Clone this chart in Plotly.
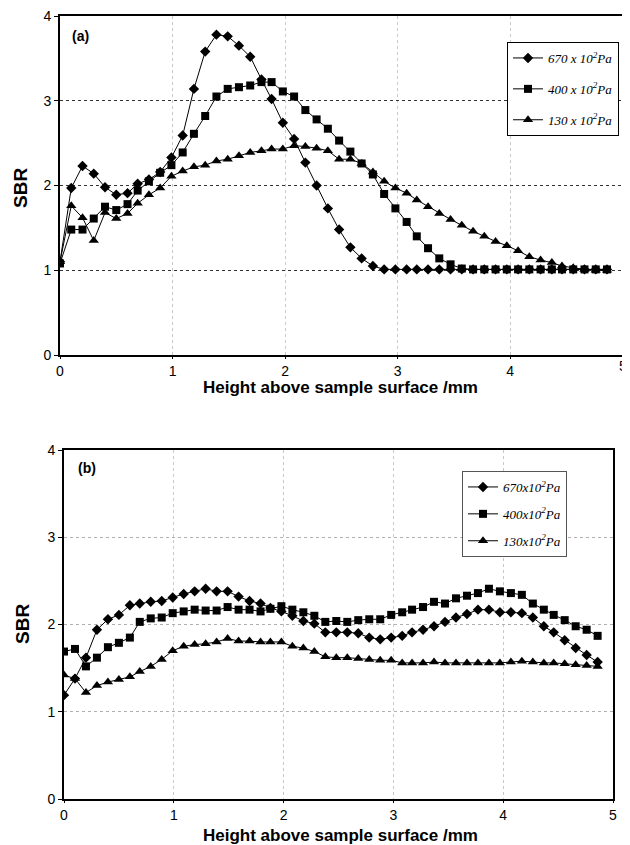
import plotly.graph_objects as go

# Height above sample surface (mm), sampling positions
height_mm = [0.00, 0.10, 0.20, 0.30, 0.40, 0.50, 0.60, 0.69, 0.79, 0.89,
             0.99, 1.09, 1.19, 1.29, 1.39, 1.49, 1.59, 1.69, 1.79, 1.88,
             1.98, 2.08, 2.18, 2.28, 2.38, 2.48, 2.58, 2.68, 2.78, 2.88,
             2.98, 3.08, 3.17, 3.27, 3.37, 3.47, 3.57, 3.67, 3.77, 3.87,
             3.97, 4.07, 4.17, 4.27, 4.37, 4.46, 4.56, 4.66, 4.76, 4.86]

# (a)
a_670 = [1.10, 1.97, 2.23, 2.14, 1.98, 1.89, 1.91, 2.02, 2.07, 2.16,
         2.33, 2.59, 3.14, 3.58, 3.78, 3.76, 3.65, 3.52, 3.25, 3.02,
         2.74, 2.55, 2.27, 2.00, 1.73, 1.48, 1.27, 1.14, 1.05, 1.01,
         1.01, 1.01, 1.01, 1.01, 1.01, 1.01, 1.01, 1.01, 1.01, 1.01,
         1.01, 1.01, 1.01, 1.01, 1.01, 1.01, 1.01, 1.01, 1.01, 1.01]
a_400 = [1.08, 1.48, 1.48, 1.61, 1.75, 1.71, 1.78, 1.94, 2.05, 2.15,
         2.24, 2.39, 2.61, 2.82, 3.05, 3.14, 3.16, 3.18, 3.22, 3.22,
         3.11, 3.05, 2.89, 2.78, 2.67, 2.53, 2.40, 2.26, 2.13, 1.90,
         1.73, 1.57, 1.40, 1.26, 1.14, 1.07, 1.02, 1.01, 1.01, 1.01,
         1.01, 1.01, 1.01, 1.01, 1.01, 1.01, 1.01, 1.01, 1.01, 1.01]
a_130 = [1.10, 1.76, 1.62, 1.35, 1.68, 1.61, 1.67, 1.79, 1.89, 1.97,
         2.11, 2.17, 2.22, 2.24, 2.29, 2.31, 2.35, 2.39, 2.41, 2.43,
         2.43, 2.47, 2.46, 2.44, 2.41, 2.31, 2.31, 2.26, 2.16, 2.05,
         1.97, 1.91, 1.83, 1.75, 1.67, 1.60, 1.53, 1.46, 1.40, 1.34,
         1.29, 1.23, 1.16, 1.12, 1.09, 1.05, 1.03, 1.01, 1.00, 1.00]

# (b)
b_670 = [1.19, 1.38, 1.62, 1.94, 2.06, 2.11, 2.22, 2.24, 2.26, 2.27,
         2.31, 2.35, 2.38, 2.41, 2.38, 2.38, 2.32, 2.27, 2.24, 2.19,
         2.15, 2.10, 2.04, 2.01, 1.91, 1.91, 1.91, 1.90, 1.85, 1.83,
         1.85, 1.87, 1.91, 1.94, 1.98, 2.03, 2.08, 2.12, 2.17, 2.17,
         2.14, 2.14, 2.13, 2.08, 1.98, 1.91, 1.82, 1.73, 1.65, 1.57]
b_400 = [1.69, 1.72, 1.52, 1.62, 1.74, 1.79, 1.85, 2.03, 2.07, 2.08,
         2.13, 2.15, 2.17, 2.16, 2.16, 2.20, 2.17, 2.17, 2.15, 2.18,
         2.21, 2.17, 2.14, 2.10, 2.03, 2.04, 2.03, 2.05, 2.06, 2.06,
         2.11, 2.14, 2.17, 2.20, 2.26, 2.24, 2.30, 2.33, 2.36, 2.41,
         2.38, 2.36, 2.34, 2.24, 2.17, 2.11, 2.05, 1.98, 1.94, 1.87]
b_130 = [1.42, 1.38, 1.22, 1.30, 1.34, 1.37, 1.40, 1.46, 1.52, 1.60,
         1.70, 1.75, 1.77, 1.78, 1.80, 1.84, 1.81, 1.81, 1.80, 1.80,
         1.80, 1.75, 1.73, 1.69, 1.63, 1.62, 1.62, 1.61, 1.60, 1.59,
         1.59, 1.56, 1.56, 1.56, 1.57, 1.56, 1.56, 1.56, 1.56, 1.56,
         1.56, 1.57, 1.58, 1.57, 1.56, 1.56, 1.55, 1.54, 1.53, 1.52]

x_ticks = [0, 1, 2, 3, 4, 5]

names_a = ["670 x 10<sup>2</sup>Pa", "400 x 10<sup>2</sup>Pa", "130 x 10<sup>2</sup>Pa"]
names_b = ["670x10<sup>2</sup>Pa", "400x10<sup>2</sup>Pa", "130x10<sup>2</sup>Pa"]
symbols = ["diamond", "square", "triangle-up"]
sizes = [8, 8, 9]

fig = go.Figure()
for ys, nm, sym, sz, i in zip([a_670, a_400, a_130], names_a, symbols, sizes, range(3)):
    fig.add_trace(go.Scatter(x=height_mm, y=ys, name=nm, mode="lines+markers",
                             line=dict(color="black", width=1),
                             marker=dict(symbol=sym, size=sz, color="black"),
                             xaxis="x", yaxis="y", legend="legend",
                             legendgroup="a%d" % i))
for ys, nm, sym, sz, i in zip([b_670, b_400, b_130], names_b, symbols, sizes, range(3)):
    fig.add_trace(go.Scatter(x=height_mm, y=ys, name=nm, mode="lines+markers",
                             line=dict(color="black", width=1),
                             marker=dict(symbol=sym, size=sz, color="black"),
                             xaxis="x2", yaxis="y2", legend="legend2",
                             legendgroup="b%d" % i))

# page body has an 8px margin, so the figure starts at (8, 8) in the window
OFF = 8
W, H = 630 - OFF, 845 - OFF
def px_x(p): return (p - OFF) / W
def px_y(p): return 1 - (p - OFF) / H

tick_font = dict(family="Liberation Sans, Arial", size=14, color="black")
axis_common = dict(showline=True, linecolor="black", linewidth=2,
                   mirror=True, ticks="outside", ticklen=2, tickcolor="black",
                   tickfont=tick_font, zeroline=False, showgrid=True, griddash="dot",
                   automargin=False, ticklabeloverflow="allow")
yaxis_common = dict(range=[0, 4], dtick=1, showline=True, linecolor="black", linewidth=2,
                    mirror=True, ticks="outside", ticklen=4, tickcolor="black",
                    tickfont=tick_font, zeroline=False, showgrid=True, griddash="dot",
                    automargin=False, ticklabeloverflow="allow")

leg_font = dict(family="Liberation Serif, Times New Roman", size=13, color="black", style="italic")

fig.update_layout(
    width=W, height=H, plot_bgcolor="white", paper_bgcolor="white",
    margin=dict(l=0, r=0, t=0, b=0, autoexpand=False),
    # top panel: the last label (5) sits at the panel edge, so it is written
    # as an annotation placed on the x-axis scale below
    xaxis=dict(axis_common, range=[0, 5.02], tickmode="array", tickvals=x_ticks[:-1],
               domain=[px_x(60), px_x(625)], anchor="y", gridcolor="#c8c8c8"),
    yaxis=dict(yaxis_common, domain=[px_y(355), px_y(16)], anchor="x", gridcolor="#333333"),
    xaxis2=dict(axis_common, range=[0, 5], tickmode="array", tickvals=x_ticks,
                domain=[px_x(64), px_x(613)], anchor="y2", gridcolor="#c8c8c8"),
    yaxis2=dict(yaxis_common, domain=[px_y(799), px_y(450)], anchor="x2", gridcolor="#b0b0b0"),
    legend=dict(x=px_x(507), y=px_y(42), xanchor="left", yanchor="top",
                bgcolor="white", bordercolor="black", borderwidth=1,
                font=leg_font, tracegroupgap=11, traceorder="grouped",
                itemwidth=30),
    legend2=dict(x=px_x(462), y=px_y(471), xanchor="left", yanchor="top",
                 bgcolor="white", bordercolor="#555555", borderwidth=1,
                 font=leg_font, tracegroupgap=7, traceorder="grouped",
                 itemwidth=30),
    showlegend=True,
)

fig.add_annotation(x=x_ticks[-1], xref="x", y=px_y(366), yref="paper", xanchor="center",
                   yanchor="middle", text=str(x_ticks[-1]), showarrow=False, font=tick_font)

ann_font = dict(family="Liberation Sans, Arial", size=17, color="black")
fig.add_annotation(x=px_x(340), y=px_y(387), xref="paper", yref="paper", xanchor="center", yanchor="middle",
                   text="<b>Height above sample surface /mm</b>", showarrow=False, font=ann_font)
fig.add_annotation(x=px_x(340), y=px_y(835), xref="paper", yref="paper", xanchor="center", yanchor="middle",
                   text="<b>Height above sample surface /mm</b>", showarrow=False, font=ann_font)
fig.add_annotation(x=px_x(20), y=px_y(188), xref="paper", yref="paper", xanchor="center", yanchor="middle",
                   text="<b>SBR</b>", textangle=-90, showarrow=False, font=dict(ann_font, size=19))
fig.add_annotation(x=px_x(22), y=px_y(624), xref="paper", yref="paper", xanchor="center", yanchor="middle",
                   text="<b>SBR</b>", textangle=-90, showarrow=False, font=dict(ann_font, size=19))
fig.add_annotation(x=px_x(70), y=px_y(36), xref="paper", yref="paper", xanchor="left", yanchor="middle",
                   text="<b>(a)</b>", showarrow=False, font=dict(family="Liberation Sans, Arial", size=14, color="black"))
fig.add_annotation(x=px_x(76), y=px_y(468), xref="paper", yref="paper", xanchor="left", yanchor="middle",
                   text="<b>(b)</b>", showarrow=False, font=dict(family="Liberation Sans, Arial", size=14, color="black"))

fig.write_html("out.html")
